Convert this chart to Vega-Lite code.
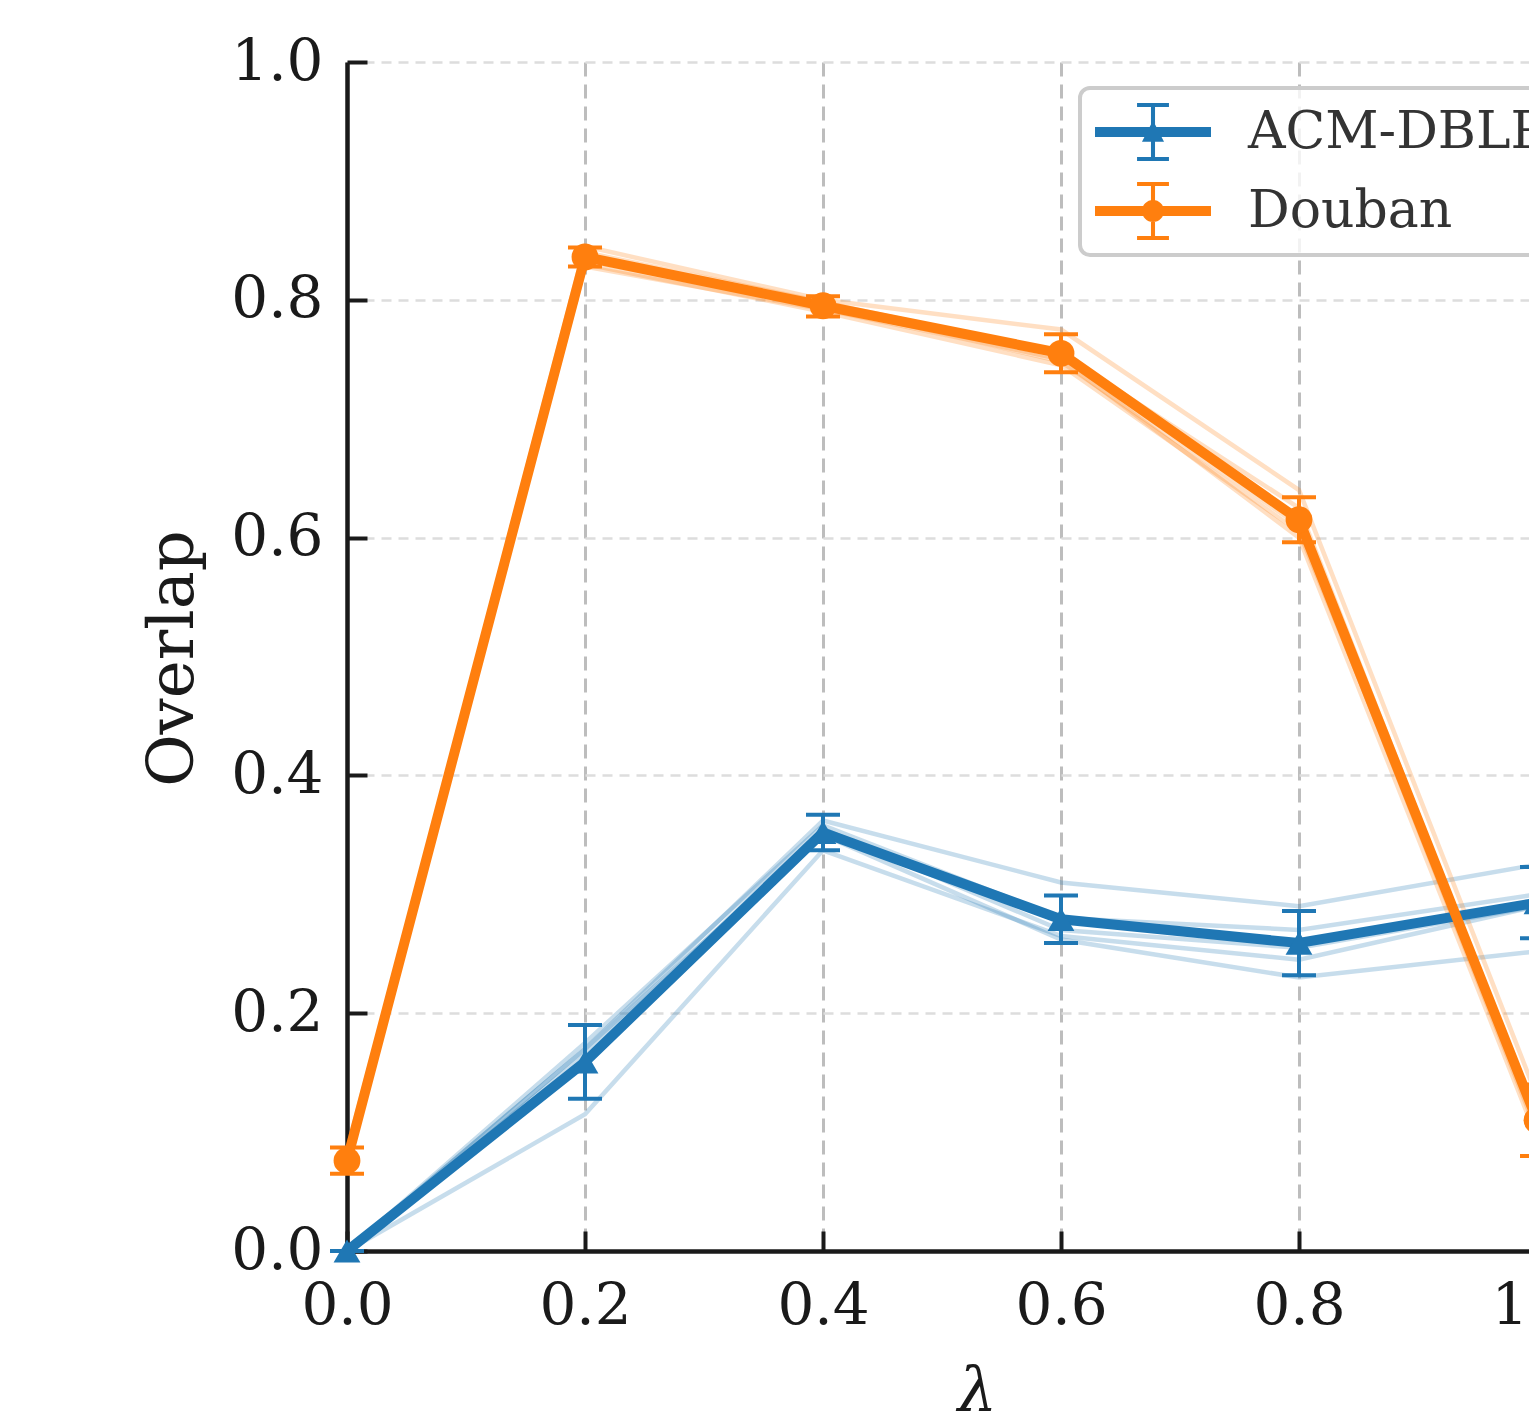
{
  "$schema": "https://vega.github.io/schema/vega-lite/v6.json",
  "autosize": {"type": "none"},
  "padding": {"left": 347, "top": 62, "right": 0, "bottom": 160},
  "width": 1190,
  "height": 1189,
  "background": "white",
  "config": {"view": {"stroke": null}, "legend": {"strokeWidth": 4}},
  "datasets": {
    "runs": [
      {"series": "ACM-DBLP", "run": 1, "lambda": 0.0, "value": 0.0},
      {"series": "ACM-DBLP", "run": 1, "lambda": 0.2, "value": 0.170},
      {"series": "ACM-DBLP", "run": 1, "lambda": 0.4, "value": 0.362},
      {"series": "ACM-DBLP", "run": 1, "lambda": 0.6, "value": 0.310},
      {"series": "ACM-DBLP", "run": 1, "lambda": 0.8, "value": 0.290},
      {"series": "ACM-DBLP", "run": 1, "lambda": 1.0, "value": 0.325},
      {"series": "ACM-DBLP", "run": 2, "lambda": 0.0, "value": 0.0},
      {"series": "ACM-DBLP", "run": 2, "lambda": 0.2, "value": 0.175},
      {"series": "ACM-DBLP", "run": 2, "lambda": 0.4, "value": 0.358},
      {"series": "ACM-DBLP", "run": 2, "lambda": 0.6, "value": 0.280},
      {"series": "ACM-DBLP", "run": 2, "lambda": 0.8, "value": 0.270},
      {"series": "ACM-DBLP", "run": 2, "lambda": 1.0, "value": 0.300},
      {"series": "ACM-DBLP", "run": 3, "lambda": 0.0, "value": 0.0},
      {"series": "ACM-DBLP", "run": 3, "lambda": 0.2, "value": 0.165},
      {"series": "ACM-DBLP", "run": 3, "lambda": 0.4, "value": 0.355},
      {"series": "ACM-DBLP", "run": 3, "lambda": 0.6, "value": 0.270},
      {"series": "ACM-DBLP", "run": 3, "lambda": 0.8, "value": 0.255},
      {"series": "ACM-DBLP", "run": 3, "lambda": 1.0, "value": 0.290},
      {"series": "ACM-DBLP", "run": 4, "lambda": 0.0, "value": 0.0},
      {"series": "ACM-DBLP", "run": 4, "lambda": 0.2, "value": 0.170},
      {"series": "ACM-DBLP", "run": 4, "lambda": 0.4, "value": 0.350},
      {"series": "ACM-DBLP", "run": 4, "lambda": 0.6, "value": 0.262},
      {"series": "ACM-DBLP", "run": 4, "lambda": 0.8, "value": 0.230},
      {"series": "ACM-DBLP", "run": 4, "lambda": 1.0, "value": 0.252},
      {"series": "ACM-DBLP", "run": 5, "lambda": 0.0, "value": 0.0},
      {"series": "ACM-DBLP", "run": 5, "lambda": 0.2, "value": 0.115},
      {"series": "ACM-DBLP", "run": 5, "lambda": 0.4, "value": 0.337},
      {"series": "ACM-DBLP", "run": 5, "lambda": 0.6, "value": 0.265},
      {"series": "ACM-DBLP", "run": 5, "lambda": 0.8, "value": 0.245},
      {"series": "ACM-DBLP", "run": 5, "lambda": 1.0, "value": 0.290},
      {"series": "Douban", "run": 1, "lambda": 0.0, "value": 0.080},
      {"series": "Douban", "run": 1, "lambda": 0.2, "value": 0.845},
      {"series": "Douban", "run": 1, "lambda": 0.4, "value": 0.800},
      {"series": "Douban", "run": 1, "lambda": 0.6, "value": 0.775},
      {"series": "Douban", "run": 1, "lambda": 0.8, "value": 0.640},
      {"series": "Douban", "run": 1, "lambda": 1.0, "value": 0.130},
      {"series": "Douban", "run": 2, "lambda": 0.0, "value": 0.075},
      {"series": "Douban", "run": 2, "lambda": 0.2, "value": 0.840},
      {"series": "Douban", "run": 2, "lambda": 0.4, "value": 0.798},
      {"series": "Douban", "run": 2, "lambda": 0.6, "value": 0.755},
      {"series": "Douban", "run": 2, "lambda": 0.8, "value": 0.625},
      {"series": "Douban", "run": 2, "lambda": 1.0, "value": 0.110},
      {"series": "Douban", "run": 3, "lambda": 0.0, "value": 0.070},
      {"series": "Douban", "run": 3, "lambda": 0.2, "value": 0.835},
      {"series": "Douban", "run": 3, "lambda": 0.4, "value": 0.795},
      {"series": "Douban", "run": 3, "lambda": 0.6, "value": 0.748},
      {"series": "Douban", "run": 3, "lambda": 0.8, "value": 0.610},
      {"series": "Douban", "run": 3, "lambda": 1.0, "value": 0.100},
      {"series": "Douban", "run": 4, "lambda": 0.0, "value": 0.085},
      {"series": "Douban", "run": 4, "lambda": 0.2, "value": 0.830},
      {"series": "Douban", "run": 4, "lambda": 0.4, "value": 0.790},
      {"series": "Douban", "run": 4, "lambda": 0.6, "value": 0.745},
      {"series": "Douban", "run": 4, "lambda": 0.8, "value": 0.605},
      {"series": "Douban", "run": 4, "lambda": 1.0, "value": 0.115},
      {"series": "Douban", "run": 5, "lambda": 0.0, "value": 0.075},
      {"series": "Douban", "run": 5, "lambda": 0.2, "value": 0.828},
      {"series": "Douban", "run": 5, "lambda": 0.4, "value": 0.792},
      {"series": "Douban", "run": 5, "lambda": 0.6, "value": 0.750},
      {"series": "Douban", "run": 5, "lambda": 0.8, "value": 0.600},
      {"series": "Douban", "run": 5, "lambda": 1.0, "value": 0.095}
    ],
    "summary": [
      {"series": "ACM-DBLP", "lambda": 0.0, "mean": 0.0, "lo": 0.0, "hi": 0.0},
      {"series": "ACM-DBLP", "lambda": 0.2, "mean": 0.159, "lo": 0.128, "hi": 0.190},
      {"series": "ACM-DBLP", "lambda": 0.4, "mean": 0.352, "lo": 0.337, "hi": 0.367},
      {"series": "ACM-DBLP", "lambda": 0.6, "mean": 0.279, "lo": 0.259, "hi": 0.299},
      {"series": "ACM-DBLP", "lambda": 0.8, "mean": 0.259, "lo": 0.232, "hi": 0.286},
      {"series": "ACM-DBLP", "lambda": 1.0, "mean": 0.293, "lo": 0.263, "hi": 0.323},
      {"series": "Douban", "lambda": 0.0, "mean": 0.076, "lo": 0.065, "hi": 0.087},
      {"series": "Douban", "lambda": 0.2, "mean": 0.836, "lo": 0.828, "hi": 0.844},
      {"series": "Douban", "lambda": 0.4, "mean": 0.795, "lo": 0.786, "hi": 0.803},
      {"series": "Douban", "lambda": 0.6, "mean": 0.755, "lo": 0.739, "hi": 0.771},
      {"series": "Douban", "lambda": 0.8, "mean": 0.615, "lo": 0.596, "hi": 0.634},
      {"series": "Douban", "lambda": 1.0, "mean": 0.110, "lo": 0.080, "hi": 0.140}
    ]
  },
  "encoding": {
    "x": {
      "field": "lambda",
      "type": "quantitative",
      "scale": {"domain": [0, 1], "nice": false, "zero": false},
      "axis": {
        "values": [0, 0.2, 0.4, 0.6, 0.8, 1.0],
        "format": ".1f",
        "title": "λ",
        "titleFont": "DejaVu Serif",
        "titleFontStyle": "italic",
        "titleFontWeight": "normal",
        "titleFontSize": 62,
        "titleColor": "#1a1a1a",
        "titleX": 630,
        "titleY": 159,
        "titleBaseline": "alphabetic",
        "titleAlign": "center",
        "labelFont": "DejaVu Serif",
        "labelFontSize": 58,
        "labelColor": "#1a1a1a",
        "labelPadding": 46,
        "labelFlush": false,
        "labelOverlap": false,
        "tickSize": -20,
        "tickWidth": 4,
        "tickColor": "#1a1a1a",
        "domainColor": "#1a1a1a",
        "domainWidth": 4.5,
        "grid": true,
        "gridColor": "#bdbdbd",
        "gridDash": [14, 8],
        "gridWidth": 3
      }
    },
    "y": {
      "type": "quantitative",
      "scale": {"domain": [0, 1], "nice": false},
      "axis": {
        "values": [0, 0.2, 0.4, 0.6, 0.8, 1.0],
        "format": ".1f",
        "title": "Overlap",
        "titleFont": "DejaVu Serif",
        "titleFontWeight": "normal",
        "titleFontSize": 64,
        "titleColor": "#1a1a1a",
        "titleAngle": -90,
        "titleX": -155,
        "titleY": 596,
        "titleBaseline": "alphabetic",
        "titleAlign": "center",
        "labelFont": "DejaVu Serif",
        "labelFontSize": 58,
        "labelColor": "#1a1a1a",
        "labelPadding": 44,
        "labelFlush": false,
        "labelOverlap": false,
        "tickSize": -20,
        "tickWidth": 4,
        "tickColor": "#1a1a1a",
        "domainColor": "#1a1a1a",
        "domainWidth": 4.5,
        "grid": true,
        "gridColor": "#dddddd",
        "gridDash": [10, 7],
        "gridWidth": 2.5
      }
    },
    "color": {
      "field": "series",
      "type": "nominal",
      "scale": {"domain": ["ACM-DBLP", "Douban"], "range": ["#1f77b4", "#ff7f0e"]},
      "legend": {
        "title": null,
        "orient": "none",
        "legendX": 733,
        "legendY": 26,
        "padding": 15,
        "fillColor": "rgba(255,255,255,0.8)",
        "strokeColor": "#cccccc",
        "cornerRadius": 10,
        "symbolSize": 3364,
        "labelOffset": 95,
        "rowPadding": 21,
        "labelFont": "DejaVu Serif",
        "labelFontSize": 52,
        "labelColor": "#333333",
        "labelLimit": 0,
        "labelBaseline": "middle",
        "encode": {
          "symbols": {
            "update": {
              "shape": {"signal": "datum.value === 'Douban' ? 'M-1,-0.17H3V0.17H-1Z M0.93,-0.93H1.07V0.93H0.93Z M0.45,-1H1.55V-0.86H0.45Z M0.45,0.86H1.55V1H0.45Z M0.62,0A0.38,0.38,0,1,1,1.38,0A0.38,0.38,0,1,1,0.62,0Z' : 'M-1,-0.17H3V0.17H-1Z M0.93,-0.93H1.07V0.93H0.93Z M0.45,-1H1.55V-0.86H0.45Z M0.45,0.86H1.55V1H0.45Z M1,-0.4L1.38,0.34L0.62,0.34Z'"},
              "fill": {"signal": "datum.value === 'Douban' ? '#ff7f0e' : '#1f77b4'"},
              "stroke": {"value": "transparent"},
              "strokeWidth": {"value": 0},
              "opacity": {"value": 1},
              "fillOpacity": {"value": 1},
              "size": {"value": 3364}
            }
          }
        }
      }
    }
  },
  "layer": [
    {
      "data": {"name": "runs"},
      "mark": {"type": "line", "strokeWidth": 4.5, "opacity": 0.25},
      "encoding": {
        "y": {"field": "value", "type": "quantitative"},
        "detail": {"field": "run", "type": "nominal"}
      }
    },
    {
      "data": {"name": "summary"},
      "mark": {"type": "line", "strokeWidth": 10},
      "encoding": {
        "y": {"field": "mean", "type": "quantitative"}
      }
    },
    {
      "data": {"name": "summary"},
      "mark": {"type": "rule", "strokeWidth": 4},
      "encoding": {
        "y": {"field": "lo", "type": "quantitative"},
        "y2": {"field": "hi"}
      }
    },
    {
      "data": {"name": "summary"},
      "mark": {"type": "tick", "orient": "horizontal", "size": 34, "thickness": 4, "opacity": 1},
      "encoding": {
        "y": {"field": "lo", "type": "quantitative"}
      }
    },
    {
      "data": {"name": "summary"},
      "mark": {"type": "tick", "orient": "horizontal", "size": 34, "thickness": 4, "opacity": 1},
      "encoding": {
        "y": {"field": "hi", "type": "quantitative"}
      }
    },
    {
      "data": {"name": "summary"},
      "transform": [{"filter": "datum.series === 'ACM-DBLP'"}],
      "mark": {"type": "point", "filled": true, "opacity": 1, "size": 720, "shape": "triangle-up"},
      "encoding": {
        "y": {"field": "mean", "type": "quantitative"}
      }
    },
    {
      "data": {"name": "summary"},
      "transform": [{"filter": "datum.series === 'Douban'"}],
      "mark": {"type": "point", "filled": true, "opacity": 1, "size": 720, "shape": "circle"},
      "encoding": {
        "y": {"field": "mean", "type": "quantitative"}
      }
    }
  ]
}
